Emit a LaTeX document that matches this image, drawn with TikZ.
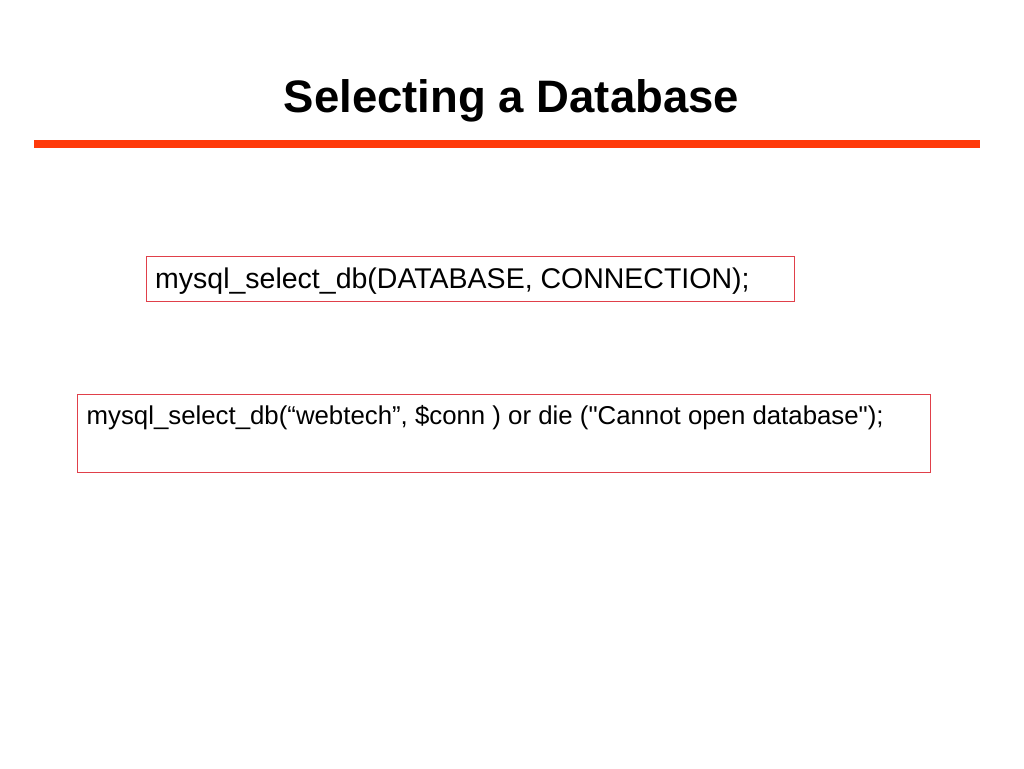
\documentclass[tikz,border=0pt]{standalone}
\usepackage{fontspec}
\setmainfont{Liberation Sans}
\usepackage{tikz}

\definecolor{barred}{HTML}{FF3A0A}
\definecolor{boxred}{HTML}{E0404A}

\begin{document}
\begin{tikzpicture}[x=1pt,y=-1pt,
  codebox/.style={draw=boxred, line width=1.2pt, inner sep=0pt, anchor=north west},
  code/.style={anchor=base west, inner sep=0pt}]

\def\W{1024}
  \def\H{768}

\useasboundingbox (0,0) rectangle (\W,\H);

% title and bar
\node[font=\bfseries\fontsize{45.5}{52}\selectfont, inner sep=0pt, anchor=base] (title) at (511.5,112) {Selecting a Database};
\fill[barred] (34,140) rectangle (980,148);

% syntax box
\node[codebox, minimum width=648, minimum height=45] (syntax) at (145.5,256) {};
\node[code, font=\fontsize{28.5}{32}\selectfont] (syntaxtext) at (155,288.5) {mysql\_select\_db(DATABASE, CONNECTION);};

% example box
\node[codebox, minimum width=853, minimum height=78] (example) at (77,393.5) {};
\node[code, font=\fontsize{25.8}{30}\selectfont] (exampletext) at (86.5,424.5) {mysql\_select\_db(“webtech”, \$conn ) or die (\textquotedbl Cannot open database\textquotedbl);};

\end{tikzpicture}
\end{document}
